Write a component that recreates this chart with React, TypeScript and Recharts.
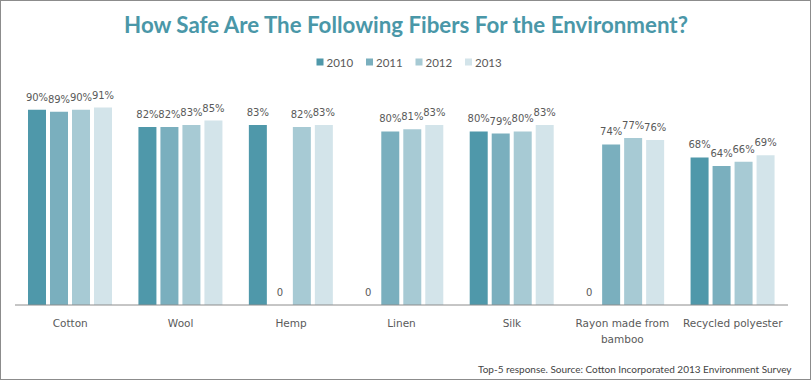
import React from "react";
import { BarChart, Bar, XAxis, YAxis, LabelList } from "recharts";

const categories = ["Cotton", "Wool", "Hemp", "Linen", "Silk", "Rayon made from bamboo", "Recycled polyester"];
const v2010 = [90, 82, 83, 0, 80, 0, 68];
const v2011 = [89, 82, 0, 80, 79, 74, 64];
const v2012 = [90, 83, 82, 81, 80, 77, 66];
const v2013 = [91, 85, 83, 83, 83, 76, 69];
const seriesNames = ["2010", "2011", "2012", "2013"];
const seriesColors = ["#4f98aa", "#7aafbe", "#a7cad4", "#d3e4ea"];
const seriesValues = [v2010, v2011, v2012, v2013];

const data = categories.map((c, i) => {
  const row: Record<string, string | number> = { name: c };
  seriesNames.forEach((s, k) => {
    row[s] = seriesValues[k][i];
  });
  return row;
});

const TITLE = "How Safe Are The Following Fibers For the Environment?";
const FOOTER = "Top-5 response. Source: Cotton Incorporated 2013 Environment Survey";

const fmt = (v: any) => (Number(v) === 0 ? "0" : `${v}%`);

const TICK_FONT = "10.5px 'DejaVu Sans'";
let ctx: CanvasRenderingContext2D | null = null;
const measure = (s: string) => {
  if (typeof document === "undefined") return s.length * 6;
  if (!ctx) ctx = document.createElement("canvas").getContext("2d");
  if (!ctx) return s.length * 6;
  ctx.font = TICK_FONT;
  return ctx.measureText(s).width;
};
const wrap = (s: string, maxW: number) => {
  const words = s.split(" ");
  const lines: string[] = [];
  let cur = "";
  words.forEach((w) => {
    const t = cur ? cur + " " + w : w;
    if (cur && measure(t) > maxW) {
      lines.push(cur);
      cur = w;
    } else cur = t;
  });
  if (cur) lines.push(cur);
  return lines;
};

const CategoryTick = (props: any) => {
  const { x, y, payload } = props;
  const lines = wrap(String(payload.value), 106);
  return (
    <text x={x} y={y} textAnchor="middle" fontFamily="DejaVu Sans" fontSize={10.5} fill="#5a5a5a">
      {lines.map((l, i) => (
        <tspan key={i} x={x} y={y + 14 + i * 16}>
          {l}
        </tspan>
      ))}
    </text>
  );
};

const ValueLabel = (props: any) => {
  const { x, y, width, value } = props;
  if (value === undefined || value === null) return null;
  return (
    <text
      x={Number(x) + Number(width) / 2}
      y={Number(y) - 9}
      textAnchor="middle"
      fontFamily="DejaVu Sans"
      fontSize={10}
      fill="#595959"
    >
      {fmt(value)}
    </text>
  );
};

export default function App() {
  return (
    <div style={{ position: "absolute", left: 0, top: 0, width: 812, height: 380, background: "#fff" }}>
      <div style={{ position: "absolute", left: 0, top: 0 }}>
        <BarChart
          width={812}
          height={380}
          data={data}
          margin={{ top: 88, right: 24, bottom: 45, left: 15 }}
          barSize={18}
          barGap={4}
        >
          <XAxis
            dataKey="name"
            height={30}
            axisLine={{ stroke: "#8c8c8c" }}
            tickLine={false}
            tick={<CategoryTick />}
            interval={0}
          />
          <YAxis hide domain={[0, 100]} />
          {seriesNames.map((s, k) => (
            <Bar
              key={s}
              dataKey={s}
              fill={seriesColors[k]}
              isAnimationActive={false}
              minPointSize={(v: any) => (Number(v) === 0 ? 0.01 : 0)}
            >
              <LabelList dataKey={s} position="top" content={<ValueLabel />} />
            </Bar>
          ))}
        </BarChart>
      </div>
      <svg width={812} height={380} style={{ position: "absolute", left: 0, top: 0, pointerEvents: "none" }}>
        <text
          x={406}
          y={33}
          textAnchor="middle"
          fontFamily="Lato"
          fontWeight={700}
          fontSize={22.3}
          fill="#4a97a8"
        >
          {TITLE}
        </text>
        {seriesNames.map((s, k) => (
          <g key={s}>
            <rect x={316.5 + k * 49.5} y={58.5} width={7} height={7} fill={seriesColors[k]} />
            <text x={326.5 + k * 49.5} y={66.5} fontFamily="Lato" fontSize={11.5} fill="#595959">
              {s}
            </text>
          </g>
        ))}
        <text x={791.5} y={372.5} textAnchor="end" fontFamily="Lato" fontSize={10} fill="#444">
          {FOOTER}
        </text>
      </svg>
      <div
        style={{
          position: "absolute",
          left: 0,
          top: 0,
          width: 811,
          height: 380,
          boxSizing: "border-box",
          border: "1px solid #8c8c8c",
          pointerEvents: "none",
        }}
      />
    </div>
  );
}
